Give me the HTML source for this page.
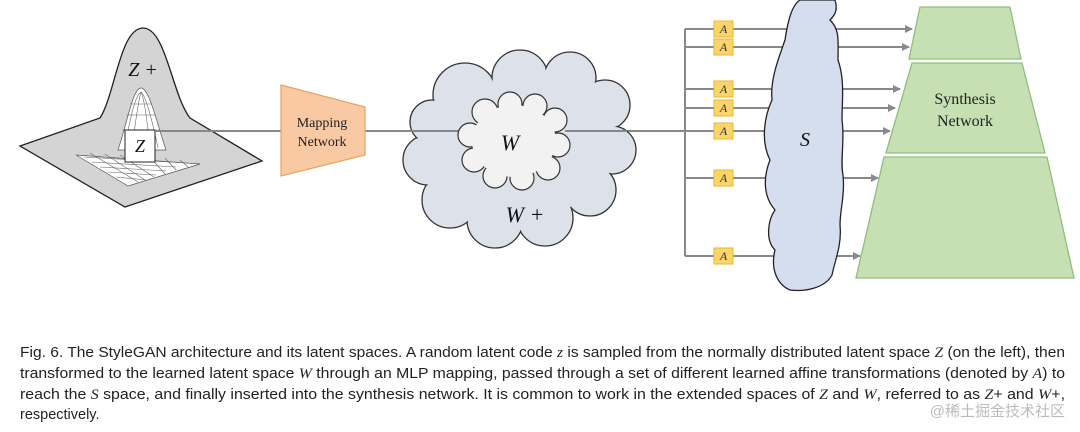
<!DOCTYPE html>
<html><head><meta charset="utf-8"><style>
html,body{margin:0;padding:0;background:#fff;}
svg{display:block;}
</style></head><body>
<svg width="1080" height="432" viewBox="0 0 1080 432" xmlns="http://www.w3.org/2000/svg">
<defs>
<marker id="ar" markerWidth="8" markerHeight="8" refX="7" refY="4" orient="auto" markerUnits="userSpaceOnUse">
<path d="M0,0 L8,4 L0,8 z" fill="#8a8a8a"/>
</marker>
</defs>
<!-- left distribution -->
<path d="M20,146 L100,118 C115,95 120,28 143,28 C166,28 172,95 190,118 L262,161 L125,207 Z" fill="#d4d4d4" stroke="#222" stroke-width="1.3"/>
<g stroke="#555" stroke-width="0.7" fill="#fff">
<path d="M76,155 L200,164 L128,186 Z" fill="#fff"/>
<path d="M118,150 C128,120 133,88 141,88 C149,88 156,120 166,150 Z" fill="#fff"/>
</g>
<g stroke="#666" stroke-width="0.6" fill="none">
<path d="M84,157 L186,163 M92,162 L176,167 M100,167 L166,171 M108,172 L156,175 M116,177 L146,180"/>
<path d="M90,153 L138,182 M105,154 L145,180 M120,155 L154,177 M150,157 L165,174 M165,158 L176,170 M180,160 L188,167"/>
<path d="M125,145 C132,110 136,95 141,92 M132,148 C137,110 140,95 141,92 M150,148 C146,110 143,95 141,92 M158,148 C150,110 145,95 141,92 M122,130 L160,130 M126,115 L156,115 M130,104 L152,104"/>
</g>
<text x="143" y="76" font-family="Liberation Serif,serif" font-style="italic" font-size="20" text-anchor="middle" fill="#111">Z +</text>
<rect x="125" y="130" width="30" height="32" fill="#fff" stroke="#222" stroke-width="1"/>
<text x="140" y="152" font-family="Liberation Serif,serif" font-style="italic" font-size="18" text-anchor="middle" fill="#111">Z</text>
<!-- lines -->
<line x1="155" y1="131" x2="281" y2="131" stroke="#888" stroke-width="2"/>
<line x1="365" y1="131" x2="685" y2="131" stroke="#888" stroke-width="2"/>
<!-- mapping -->
<path d="M281,85 L365,107 L365,155 L281,176 Z" fill="#f8c9a3" stroke="#e3a560" stroke-width="1.2"/>
<text x="322" y="127" font-family="Liberation Serif,serif" font-size="14" text-anchor="middle" fill="#222">Mapping</text>
<text x="322" y="146" font-family="Liberation Serif,serif" font-size="14" text-anchor="middle" fill="#222">Network</text>
<!-- W+ cloud -->
<g fill="#dde2ea" stroke="#333" stroke-width="1.3">
<circle cx="465" cy="95" r="32"/><circle cx="520" cy="78" r="28"/><circle cx="570" cy="78" r="26"/><circle cx="605" cy="105" r="25"/>
<circle cx="612" cy="150" r="24"/><circle cx="590" cy="190" r="26"/><circle cx="545" cy="218" r="28"/><circle cx="495" cy="220" r="28"/>
<circle cx="450" cy="200" r="28"/><circle cx="428" cy="160" r="25"/><circle cx="432" cy="122" r="22"/>
</g>
<g fill="#dde2ea">
<circle cx="465" cy="95" r="31"/><circle cx="520" cy="78" r="27"/><circle cx="570" cy="78" r="25"/><circle cx="605" cy="105" r="24"/>
<circle cx="612" cy="150" r="23"/><circle cx="590" cy="190" r="25"/><circle cx="545" cy="218" r="27"/><circle cx="495" cy="220" r="27"/>
<circle cx="450" cy="200" r="27"/><circle cx="428" cy="160" r="24"/><circle cx="432" cy="122" r="21"/>
<ellipse cx="515" cy="150" rx="95" ry="70"/>
</g>
<line x1="405" y1="131" x2="470" y2="131" stroke="#888" stroke-width="2"/>
<line x1="565" y1="131" x2="627" y2="131" stroke="#888" stroke-width="2"/>
<!-- W inner cloud -->
<g fill="#f2f2f2" stroke="#333" stroke-width="1.2">
<circle cx="485" cy="112" r="13"/><circle cx="510" cy="104" r="12"/><circle cx="535" cy="106" r="12"/><circle cx="555" cy="120" r="12"/>
<circle cx="558" cy="145" r="12"/><circle cx="548" cy="168" r="12"/><circle cx="522" cy="178" r="12"/><circle cx="495" cy="176" r="12"/>
<circle cx="474" cy="160" r="12"/><circle cx="470" cy="135" r="12"/>
</g>
<g fill="#f2f2f2">
<circle cx="485" cy="112" r="12"/><circle cx="510" cy="104" r="11"/><circle cx="535" cy="106" r="11"/><circle cx="555" cy="120" r="11"/>
<circle cx="558" cy="145" r="11"/><circle cx="548" cy="168" r="11"/><circle cx="522" cy="178" r="11"/><circle cx="495" cy="176" r="11"/>
<circle cx="474" cy="160" r="11"/><circle cx="470" cy="135" r="11"/>
<ellipse cx="514" cy="141" rx="42" ry="36"/>
</g>
<text x="510" y="150" font-family="Liberation Serif,serif" font-style="italic" font-size="22" text-anchor="middle" fill="#111">W</text>
<text x="525" y="222" font-family="Liberation Serif,serif" font-style="italic" font-size="22" text-anchor="middle" fill="#111">W +</text>
<!-- branches -->
<g stroke="#888" stroke-width="2" fill="none">
<line x1="685" y1="29" x2="685" y2="256"/>
<line x1="685" y1="29" x2="912" y2="29" marker-end="url(#ar)"/>
<line x1="685" y1="47" x2="909" y2="47" marker-end="url(#ar)"/>
<line x1="685" y1="89" x2="900" y2="89" marker-end="url(#ar)"/>
<line x1="685" y1="108" x2="895" y2="108" marker-end="url(#ar)"/>
<line x1="685" y1="131" x2="890" y2="131" marker-end="url(#ar)"/>
<line x1="685" y1="178" x2="878" y2="178" marker-end="url(#ar)"/>
<line x1="685" y1="256" x2="860" y2="256" marker-end="url(#ar)"/>
</g>
<g fill="#fbd56a" stroke="#e5b730" stroke-width="1">
<rect x="714" y="21" width="19" height="16"/><rect x="714" y="39" width="19" height="16"/>
<rect x="714" y="81" width="19" height="16"/><rect x="714" y="100" width="19" height="16"/>
<rect x="714" y="123" width="19" height="16"/><rect x="714" y="170" width="19" height="16"/>
<rect x="714" y="248" width="19" height="16"/>
</g>
<g font-family="Liberation Serif,serif" font-style="italic" font-size="12" text-anchor="middle" fill="#333">
<text x="723.5" y="33">A</text><text x="723.5" y="51">A</text><text x="723.5" y="93">A</text><text x="723.5" y="112">A</text><text x="723.5" y="135">A</text><text x="723.5" y="182">A</text><text x="723.5" y="260">A</text>
</g>
<!-- S cloud -->
<path d="M790,290 C778,285 770,270 775,250 C765,240 768,220 775,210 C762,195 764,175 770,160 C760,140 765,115 772,100 C770,80 778,60 785,40 C788,20 792,5 800,0 L835,0 C838,10 835,15 830,20 C840,30 838,40 838,60 C845,80 842,100 842,120 C845,140 840,160 843,175 C845,195 840,210 840,225 C842,245 835,260 832,275 C825,288 805,292 790,290 Z" fill="#d5deee" stroke="#222" stroke-width="1.3"/>
<text x="805" y="146" font-family="Liberation Serif,serif" font-style="italic" font-size="20" text-anchor="middle" fill="#111">S</text>
<!-- synthesis -->
<g fill="#c6e0b4" stroke="#8cbf7c" stroke-width="1.3">
<path d="M920,7 L1010,7 L1021,59 L909,59 Z"/>
<path d="M912,63 L1022,63 L1045,153 L886,153 Z"/>
<path d="M884,157 L1047,157 L1074,278 L856,278 Z"/>
</g>
<text x="965" y="104" font-family="Liberation Serif,serif" font-size="16" text-anchor="middle" fill="#222">Synthesis</text>
<text x="965" y="126" font-family="Liberation Serif,serif" font-size="16" text-anchor="middle" fill="#222">Network</text>
<!-- caption -->
<g font-family="Liberation Sans,sans-serif" font-size="14.5" fill="#222">
<text x="20" y="357" textLength="1045" lengthAdjust="spacingAndGlyphs">Fig. 6.  The StyleGAN architecture and its latent spaces. A random latent code <tspan font-style="italic" font-family="Liberation Serif,serif">z</tspan> is sampled from the normally distributed latent space <tspan font-style="italic" font-family="Liberation Serif,serif">Z</tspan> (on the left), then</text>
<text x="20" y="378" textLength="1045" lengthAdjust="spacingAndGlyphs">transformed to the learned latent space <tspan font-style="italic" font-family="Liberation Serif,serif">W</tspan> through an MLP mapping, passed through a set of different learned affine transformations (denoted by <tspan font-style="italic" font-family="Liberation Serif,serif">A</tspan>) to</text>
<text x="20" y="399" textLength="1045" lengthAdjust="spacingAndGlyphs">reach the <tspan font-style="italic" font-family="Liberation Serif,serif">S</tspan> space, and finally inserted into the synthesis network. It is common to work in the extended spaces of <tspan font-style="italic" font-family="Liberation Serif,serif">Z</tspan> and <tspan font-style="italic" font-family="Liberation Serif,serif">W</tspan>, referred to as <tspan font-style="italic" font-family="Liberation Serif,serif">Z</tspan>+ and <tspan font-style="italic" font-family="Liberation Serif,serif">W</tspan>+,</text>
<text x="20" y="419">respectively.</text>
</g>
<text x="1065" y="416" font-family="Liberation Sans,'Noto Sans CJK SC',sans-serif" font-size="15" text-anchor="end" fill="#bbb">@稀土掘金技术社区</text>
</svg>
</body></html>
